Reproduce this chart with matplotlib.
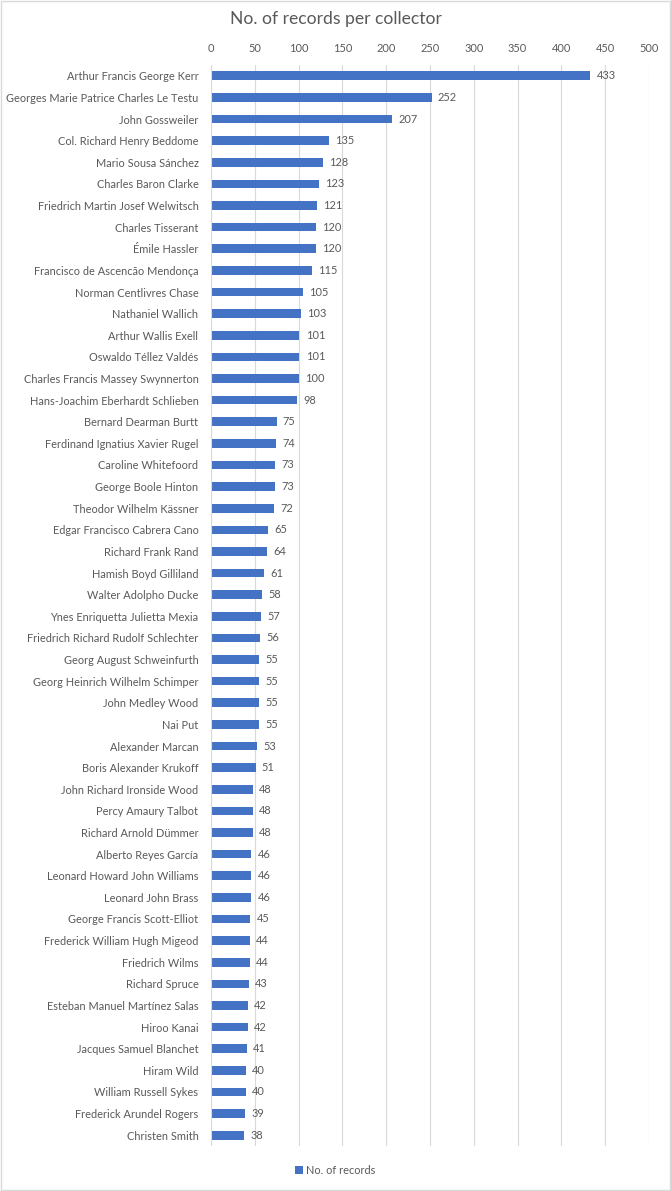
import matplotlib.pyplot as plt
from matplotlib.patches import Rectangle

collectors = [
    "Arthur Francis George Kerr", "Georges Marie Patrice Charles Le Testu",
    "John Gossweiler", "Col. Richard Henry Beddome", "Mario Sousa Sánchez",
    "Charles Baron Clarke", "Friedrich Martin Josef Welwitsch",
    "Charles Tisserant", "Émile Hassler", "Francisco de Ascencão Mendonça",
    "Norman Centlivres Chase", "Nathaniel Wallich", "Arthur Wallis Exell",
    "Oswaldo Téllez Valdés", "Charles Francis Massey Swynnerton",
    "Hans-Joachim Eberhardt Schlieben", "Bernard Dearman Burtt",
    "Ferdinand Ignatius Xavier Rugel", "Caroline Whitefoord",
    "George Boole Hinton", "Theodor Wilhelm Kässner",
    "Edgar Francisco Cabrera Cano", "Richard Frank Rand",
    "Hamish Boyd Gilliland", "Walter Adolpho Ducke",
    "Ynes Enriquetta Julietta Mexia", "Friedrich Richard Rudolf Schlechter",
    "Georg August Schweinfurth", "Georg Heinrich Wilhelm Schimper",
    "John Medley Wood", "Nai Put", "Alexander Marcan",
    "Boris Alexander Krukoff", "John Richard Ironside Wood",
    "Percy Amaury Talbot", "Richard Arnold Dümmer", "Alberto Reyes García",
    "Leonard Howard John Williams", "Leonard John Brass",
    "George Francis Scott-Elliot", "Frederick William Hugh Migeod",
    "Friedrich Wilms", "Richard Spruce", "Esteban Manuel Martínez Salas",
    "Hiroo Kanai", "Jacques Samuel Blanchet", "Hiram Wild",
    "William Russell Sykes", "Frederick Arundel Rogers", "Christen Smith",
]
records = [433, 252, 207, 135, 128, 123, 121, 120, 120, 115,
           105, 103, 101, 101, 100, 98, 75, 74, 73, 73,
           72, 65, 64, 61, 58, 57, 56, 55, 55, 55,
           55, 53, 51, 48, 48, 48, 46, 46, 46, 45,
           44, 44, 43, 42, 42, 41, 40, 40, 39, 38]
ticks = [0, 50, 100, 150, 200, 250, 300, 350, 400, 450, 500]

plt.rcParams['font.family'] = ['Lato', 'DejaVu Sans']
txt = '#595959'
bar_color = '#4472C4'
fs = 7.9

fig = plt.figure(figsize=(6.71, 11.91), dpi=100)
ax = fig.add_axes([211 / 671, 1 - 1146 / 1191, 438 / 671, (1146 - 65) / 1191])

ypos = list(range(len(collectors)))
bars = ax.barh(ypos, records, height=0.4, color=bar_color, zorder=3,
               label="No. of records")
for y, v in zip(ypos, records):
    ax.text(v + 7, y, str(v), va='center', ha='left', fontsize=fs, color=txt)

ax.set_xlim(0, 500)
ax.set_ylim(len(collectors) - 0.5, -0.5)
ax.set_xticks(ticks)
ax.set_yticks(ypos)
ax.set_yticklabels(collectors)
ax.xaxis.tick_top()
ax.tick_params(axis='x', length=0, labelsize=fs, colors=txt, pad=8)
ax.tick_params(axis='y', length=0, labelsize=fs, colors=txt, pad=9)
ax.grid(axis='x', color='#D9D9D9', linewidth=0.8, zorder=0)
for s in ax.spines.values():
    s.set_visible(False)
ax.axvline(0, color='#D9D9D9', linewidth=0.8, zorder=4)

fig.suptitle("No. of records per collector", x=0.5, y=1 - 11 / 1191,
             va='top', fontsize=12.6, color=txt)
fig.legend(handles=[bars], loc='center', bbox_to_anchor=(0.5, 1 - 1170 / 1191),
           frameon=False, fontsize=fs, labelcolor=txt, handlelength=0.7,
           handleheight=0.7, handletextpad=0.3)

fig.patches.append(Rectangle((0.001, 0.001), 0.998, 0.998, transform=fig.transFigure,
                             fill=False, edgecolor='#D9D9D9', linewidth=1))

fig.savefig("out.png", dpi=100, facecolor='white')
